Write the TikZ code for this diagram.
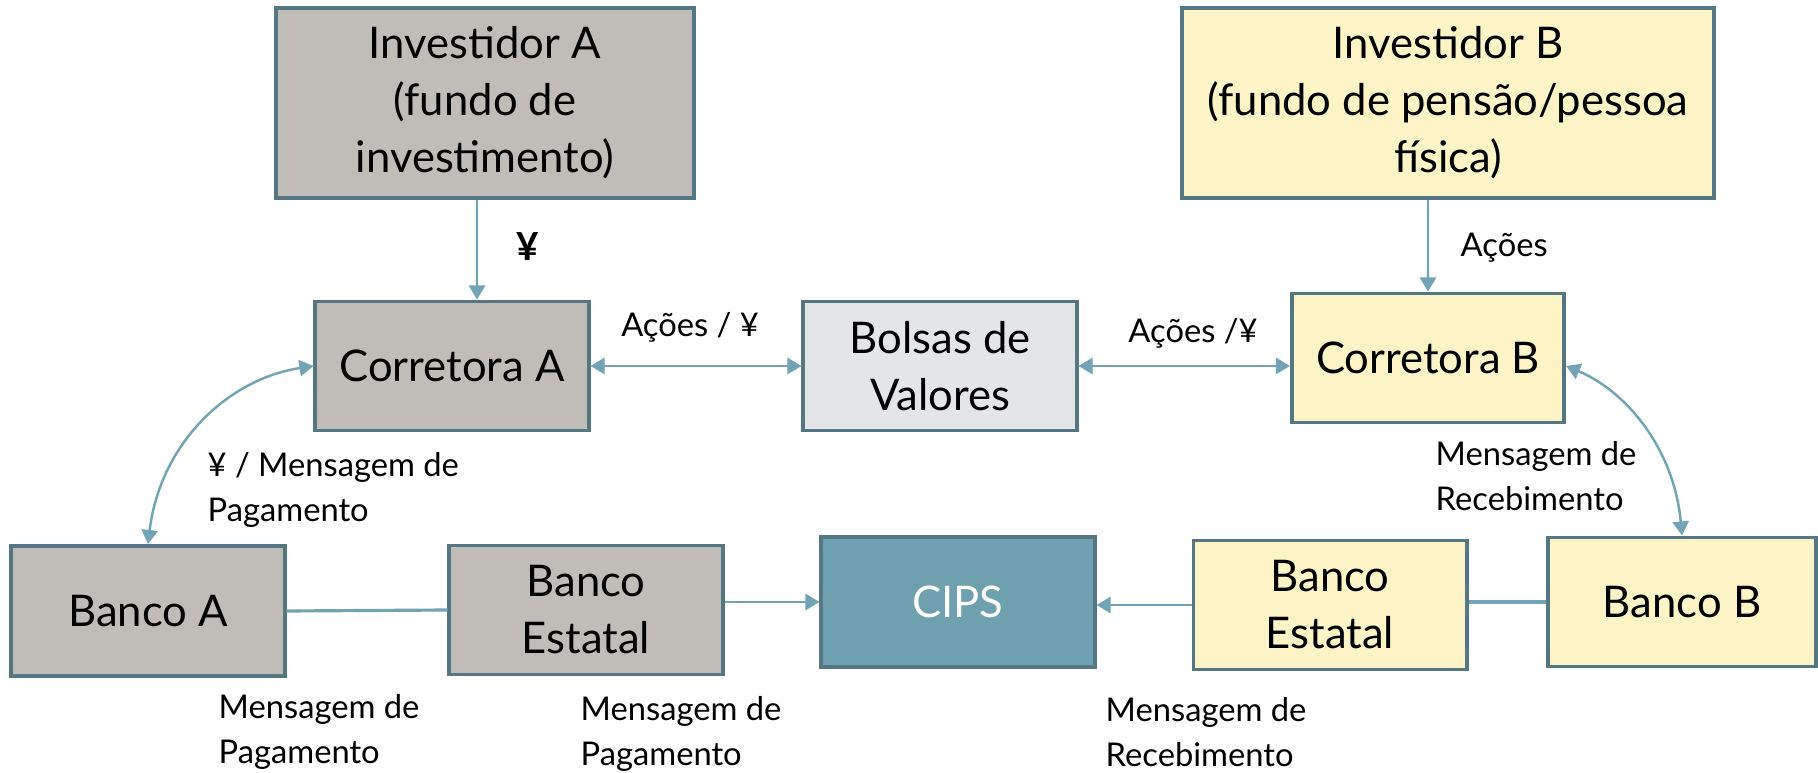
\documentclass[tikz,border=0pt]{standalone}
\usepackage{fontspec}
\setmainfont{Lato}
\usetikzlibrary{arrows.meta}

\definecolor{edgeC}{RGB}{84,119,131}
\definecolor{arrowC}{RGB}{114,164,181}
\definecolor{grayFill}{RGB}{192,189,185}
\definecolor{yellowFill}{RGB}{252,243,199}
\definecolor{lightFill}{RGB}{228,229,231}
\definecolor{cipsFill}{RGB}{110,160,176}

\tikzset{
  blk/.style={draw=edgeC, line width=1.1pt, inner sep=0pt, align=center,
    minimum width=2.73cm, minimum height=1.29cm,
    font=\fontsize{12.4}{16.2}\selectfont},
  blkgray/.style={blk, fill=grayFill},
  blkyellow/.style={blk, fill=yellowFill},
  lbl/.style={inner sep=0pt, align=left, font=\fontsize{9.3}{12.8}\selectfont},
  flow/.style={draw=arrowC, line width=0.7pt, -{Triangle[length=4pt, width=4.6pt]}},
  both/.style={draw=arrowC, line width=0.7pt, {Triangle[length=4pt, width=4.6pt]}-{Triangle[length=4pt, width=4.6pt]}},
  plain/.style={draw=arrowC, line width=0.9pt},
}

\begin{document}
\begin{tikzpicture}[x=0.01cm, y=-0.01cm]
    \useasboundingbox (0,0) rectangle (1818,773);

    \node[blkgray, minimum width=4.18cm, minimum height=1.9cm] (invA) at (485,103) {Investidor A\\(fundo de\\investimento)};
    \node[blkyellow, minimum width=5.32cm, minimum height=1.9cm] (invB) at (1448,103) {Investidor B\\(fundo de pensão/pessoa\\física)};

    \node[blkgray] (corrA) at (452,366) {Corretora A};
    \node[blk, fill=lightFill] (bolsas) at (940,366) {Bolsas de\\Valores};
    \node[blkyellow, minimum width=2.72cm] (corrB) at (1428,358) {Corretora B};

    \node[blkgray, minimum height=1.3cm] (banA) at (148,611) {Banco A};
    \node[blkgray] (estA) at (586,610) {Banco\\Estatal};
    \node[blk, fill=cipsFill, text=white, minimum height=1.3cm] (cips) at (958,602) {CIPS};
    \node[blkyellow] (estB) at (1330,605) {Banco\\Estatal};
    \node[blkyellow, minimum width=2.68cm] (banB) at (1682,602) {Banco B};

    \draw[flow] ([xshift=-0.08cm]invA.south) -- ([xshift=0.25cm]corrA.north);
    \draw[flow] ([xshift=-0.2cm]invB.south) -- (corrB.north);
    \draw[both] (corrA.east) -- (bolsas.west);
    \draw[both] (bolsas.east) -- (bolsas.east -| corrB.west);
    \draw[both] (banA.north) .. controls +(12,-100) and +(-86,13) .. (corrA.west);
    \draw[both] (corrB.east |- bolsas.east) .. controls +(60,25) and +(-8,-87) .. (banB.north);

    \draw[plain] (banA.east) -- (estA.west);
    \draw[flow] (cips.west -| estA.east) -- (cips.west);
    \draw[flow] (estB.west) -- (estB.west -| cips.east);
    \draw[plain] (banB.west) -- (banB.west -| estB.east);

    \node[lbl, font=\fontsize{11}{13}\selectfont\bfseries] (yenA) at (528,247) {¥};
    \node[lbl, anchor=west] (acoesB) at (1460,248) {Ações};
    \node[lbl] (acoesA) at (690,327) {Ações / ¥};
    \node[lbl] (acoesBolsa) at (1193,333) {Ações /¥};
    \node[lbl, anchor=west] (msgPagA) at (207,490) {¥ / Mensagem de\\Pagamento};
    \node[lbl, anchor=west] (msgRecB) at (1435,476) {Mensagem de\\Recebimento};
    \node[lbl, anchor=west] (msgBanA) at (218,732) {Mensagem de\\Pagamento};
    \node[lbl, anchor=west] (msgEstA) at (580,734) {Mensagem de\\Pagamento};
    \node[lbl, anchor=west] (msgEstB) at (1105,732) {Mensagem de\\Recebimento};
\end{tikzpicture}
\end{document}
